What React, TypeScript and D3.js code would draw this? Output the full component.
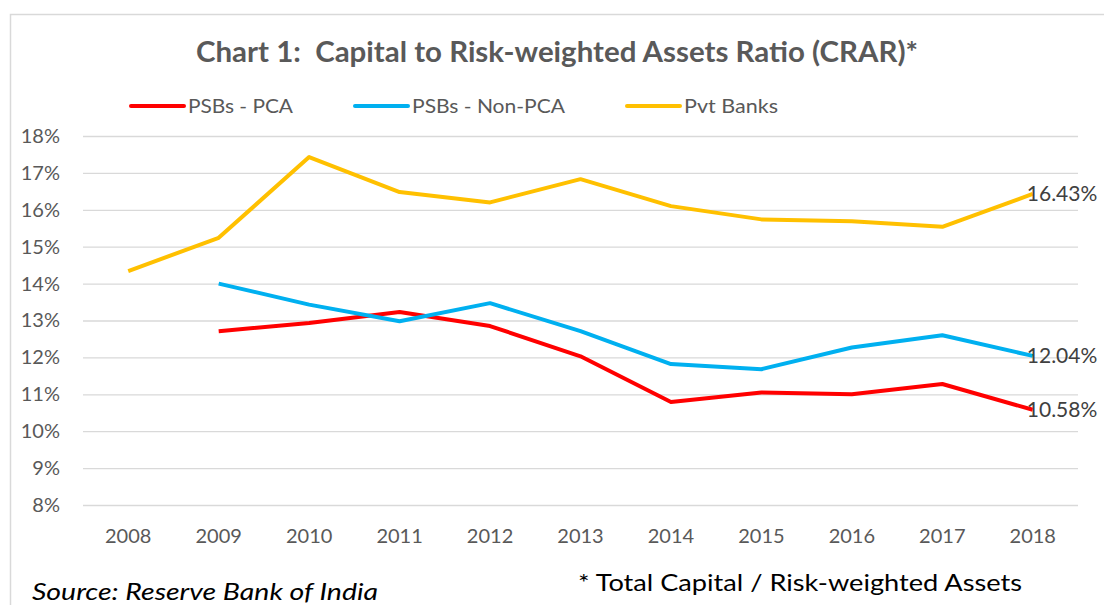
import React, { useRef, useEffect } from "react";
import * as d3 from "d3";

const years = ["2008", "2009", "2010", "2011", "2012", "2013", "2014", "2015", "2016", "2017", "2018"];
const psbPca = [null, 12.71, 12.93, 13.23, 12.85, 12.03, 10.79, 11.05, 11.0, 11.28, 10.58];
const psbNonPca = [null, 14.0, 13.43, 12.98, 13.47, 12.71, 11.82, 11.68, 12.27, 12.6, 12.04];
const pvtBanks = [14.34, 15.24, 17.43, 16.48, 16.2, 16.83, 16.1, 15.74, 15.69, 15.54, 16.43];
const yTicks = [8, 9, 10, 11, 12, 13, 14, 15, 16, 17, 18];

const seriesList = [
  { name: "PSBs - PCA", values: psbPca, color: "#FF0000" },
  { name: "PSBs - Non-PCA", values: psbNonPca, color: "#00B0F0" },
  { name: "Pvt Banks", values: pvtBanks, color: "#FFC000" },
];

const FONT = "Lato, 'Open Sans', sans-serif";

function App() {
  const svgRef = useRef<SVGSVGElement>(null);

  useEffect(() => {
    const svg = d3.select(svgRef.current);
    svg.selectAll("*").remove();

    const width = 1104;
    const height = 605;
    const margin = { left: 83, right: 26, top: 136, bottom: 100 };

    svg.append("rect").attr("width", width).attr("height", height).attr("fill", "#fff");

    // outer chart border
    svg
      .append("rect")
      .attr("x", 10.5)
      .attr("y", 14.5)
      .attr("width", width)
      .attr("height", height)
      .attr("fill", "none")
      .attr("stroke", "#D9D9D9")
      .attr("stroke-width", 1.5);

    const x = d3
      .scaleBand()
      .domain(years)
      .range([margin.left, width - margin.right]);

    const y = d3
      .scaleLinear()
      .domain([8, 18])
      .range([height - margin.bottom, margin.top]);

    const cx = (d: string) => (x(d) as number) + x.bandwidth() / 2;

    // grid
    const yGrid = (g) =>
      g
        .attr("transform", `translate(${margin.left},0)`)
        .call(
          d3
            .axisLeft(y)
            .tickValues(yTicks)
            .tickSize(-(width - margin.left - margin.right))
        )
        .call((g) => g.select(".domain").remove())
        .call((g) =>
          g.selectAll("line").attr("stroke", "#D9D9D9").attr("stroke-width", 1.3)
        )
        .call((g) =>
          g
            .selectAll("text")
            .attr("x", -23)
            .attr("fill", "#595959")
            .attr("font-size", 20)
            .attr("font-family", FONT)
        );
    svg.append("g").call(yGrid).call((g) => g.selectAll("text").text((d) => `${d}%`));

    // x axis labels
    svg
      .append("g")
      .attr("transform", `translate(0,${height - margin.bottom})`)
      .call(d3.axisBottom(x).tickSize(0).tickPadding(24))
      .call((g) => g.select(".domain").remove())
      .call((g) =>
        g
          .selectAll("text")
          .attr("fill", "#595959")
          .attr("font-size", 20)
          .attr("font-family", FONT)
      );

    // lines
    const line = d3
      .line<number | null>()
      .defined((d) => d !== null)
      .x((d, i) => cx(years[i]))
      .y((d) => y(d as number));

    seriesList.forEach((s) => {
      svg
        .append("path")
        .attr("d", line(s.values))
        .attr("fill", "none")
        .attr("stroke", s.color)
        .attr("stroke-width", 4)
        .attr("stroke-linejoin", "round");
    });

    // end labels
    seriesList.forEach((s) => {
      const last = s.values[s.values.length - 1] as number;
      svg
        .append("text")
        .attr("x", cx(years[years.length - 1]) - 6)
        .attr("y", y(last))
        .attr("dy", "0.35em")
        .attr("fill", "#404040")
        .attr("font-size", 21)
        .attr("font-family", FONT)
        .text(`${last.toFixed(2)}%`);
    });

    // title
    svg
      .append("text")
      .attr("x", 557)
      .attr("y", 62)
      .attr("text-anchor", "middle")
      .attr("fill", "#595959")
      .attr("font-weight", "bold")
      .attr("font-size", 28)
      .attr("font-family", FONT)
      .attr("textLength", 722)
      .attr("lengthAdjust", "spacingAndGlyphs")
      .style("white-space", "pre")
      .text("Chart 1:  Capital to Risk-weighted Assets Ratio (CRAR)*");

    // legend
    const legendX = [131, 355, 627];
    const legendW = [105, 153, 94];
    seriesList.forEach((s, i) => {
      const lg = svg.append("g").attr("transform", `translate(${legendX[i]},106)`);
      lg.append("line")
        .attr("x1", 0)
        .attr("x2", 53)
        .attr("stroke", s.color)
        .attr("stroke-width", 4)
        .attr("stroke-linecap", "round");
      lg.append("text")
        .attr("x", 57)
        .attr("dy", "0.35em")
        .attr("fill", "#595959")
        .attr("font-size", 20)
        .attr("font-family", FONT)
        .attr("textLength", legendW[i])
        .attr("lengthAdjust", "spacingAndGlyphs")
        .text(s.name);
    });

    // footnotes
    svg
      .append("text")
      .attr("x", 32)
      .attr("y", 600)
      .attr("fill", "#000")
      .attr("font-style", "italic")
      .attr("font-size", 23)
      .attr("font-family", FONT)
      .attr("textLength", 346)
      .attr("lengthAdjust", "spacingAndGlyphs")
      .text("Source: Reserve Bank of India");

    svg
      .append("text")
      .attr("x", 578)
      .attr("y", 591)
      .attr("fill", "#000")
      .attr("font-size", 23)
      .attr("font-family", FONT)
      .attr("textLength", 444)
      .attr("lengthAdjust", "spacingAndGlyphs")
      .text("* Total Capital / Risk-weighted Assets");
  }, []);

  return (
    <svg
      ref={svgRef}
      width={1104}
      height={605}
      style={{ position: "absolute", left: 0, top: 0 }}
    ></svg>
  );
}

export default App;
